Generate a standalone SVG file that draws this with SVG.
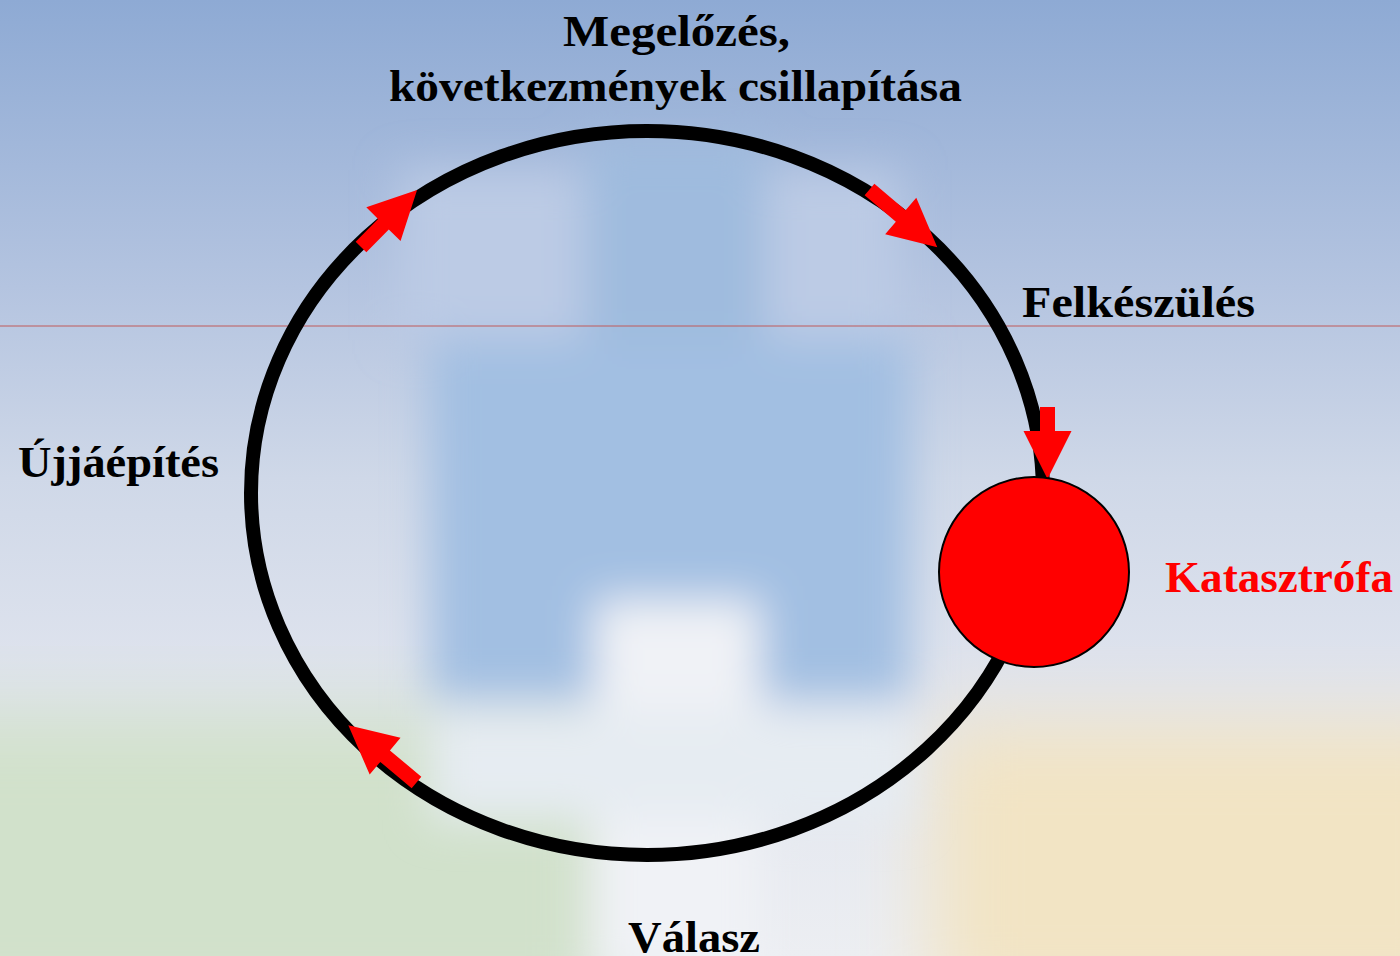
<svg xmlns="http://www.w3.org/2000/svg" width="1400" height="956" viewBox="0 0 1400 956">
<defs>
<linearGradient id="sky" x1="0" y1="0" x2="0" y2="1">
<stop offset="0" stop-color="#8eaad4"/>
<stop offset="0.3" stop-color="#b4c4e0"/>
<stop offset="0.5" stop-color="#cfd8e8"/>
<stop offset="0.72" stop-color="#e0e4ee"/>
<stop offset="1" stop-color="#eceef2"/>
</linearGradient>
<filter id="blur" x="-20%" y="-20%" width="140%" height="140%"><feGaussianBlur stdDeviation="22"/></filter>
<filter id="blur2" x="-20%" y="-20%" width="140%" height="140%"><feGaussianBlur stdDeviation="40"/></filter>
<style>
.lbl{font-family:"Liberation Serif","Times New Roman",serif;font-weight:bold;font-size:45px;fill:#000}
.red{fill:#ff0000}
.arrow{fill:#ff0000}
</style>
</defs>
<g id="background">
<rect width="1400" height="956" fill="url(#sky)"/>
<g filter="url(#blur2)">
<rect x="-100" y="710" width="720" height="320" fill="#d1e1cb"/>
<rect x="930" y="720" width="560" height="300" fill="#f2e4c4"/>
</g>
<g filter="url(#blur)">
<rect x="400" y="170" width="500" height="170" fill="#bccbe5"/>
<rect x="585" y="140" width="180" height="480" fill="#9fbbde"/>
<rect x="430" y="340" width="480" height="360" fill="#a2bfe2"/>
<rect x="595" y="600" width="165" height="380" fill="#f0f2f6"/>
<rect x="430" y="710" width="480" height="110" fill="#e6ecf2"/>
</g>
<line x1="0" y1="326" x2="1400" y2="326" stroke="#c05a5a" stroke-width="1"/>
</g>
<g id="connectors">
<ellipse cx="647" cy="493" rx="396" ry="362" fill="none" stroke="#000" stroke-width="14"/>
<polygon class="arrow" transform="translate(361,247) rotate(-45.5)" points="0,-7.5 32,-7.5 32,-24 80,0 32,24 32,7.5 0,7.5"/>
<polygon class="arrow" transform="translate(869.5,189.5) rotate(40.4)" points="0,-7.5 41,-7.5 41,-24 89,0 41,24 41,7.5 0,7.5"/>
<polygon class="arrow" transform="translate(1047.5,407) rotate(90)" points="0,-7.5 24,-7.5 24,-24 72,0 24,24 24,7.5 0,7.5"/>
<polygon class="arrow" transform="translate(416.5,782.5) rotate(220)" points="0,-7.5 41,-7.5 41,-24 89,0 41,24 41,7.5 0,7.5"/>
</g>
<g id="katasztrofa">
<circle cx="1034" cy="572" r="95" fill="#ff0000" stroke="#000" stroke-width="2"/>
<text class="lbl red" x="1165" y="592" textLength="228" lengthAdjust="spacingAndGlyphs">Katasztrófa</text>
</g>
<g id="megelozes">
<text class="lbl" x="563" y="46" textLength="227" lengthAdjust="spacingAndGlyphs">Megelőzés,</text>
<text class="lbl" x="389" y="101" textLength="573" lengthAdjust="spacingAndGlyphs">következmények csillapítása</text>
</g>
<g id="felkeszules">
<text class="lbl" x="1022" y="317" textLength="233" lengthAdjust="spacingAndGlyphs">Felkészülés</text>
</g>
<g id="ujjaepites">
<text class="lbl" x="18" y="477" textLength="201" lengthAdjust="spacingAndGlyphs">Újjáépítés</text>
</g>
<g id="valasz">
<text class="lbl" x="628" y="952" textLength="132" lengthAdjust="spacingAndGlyphs">Válasz</text>
</g>
</svg>
